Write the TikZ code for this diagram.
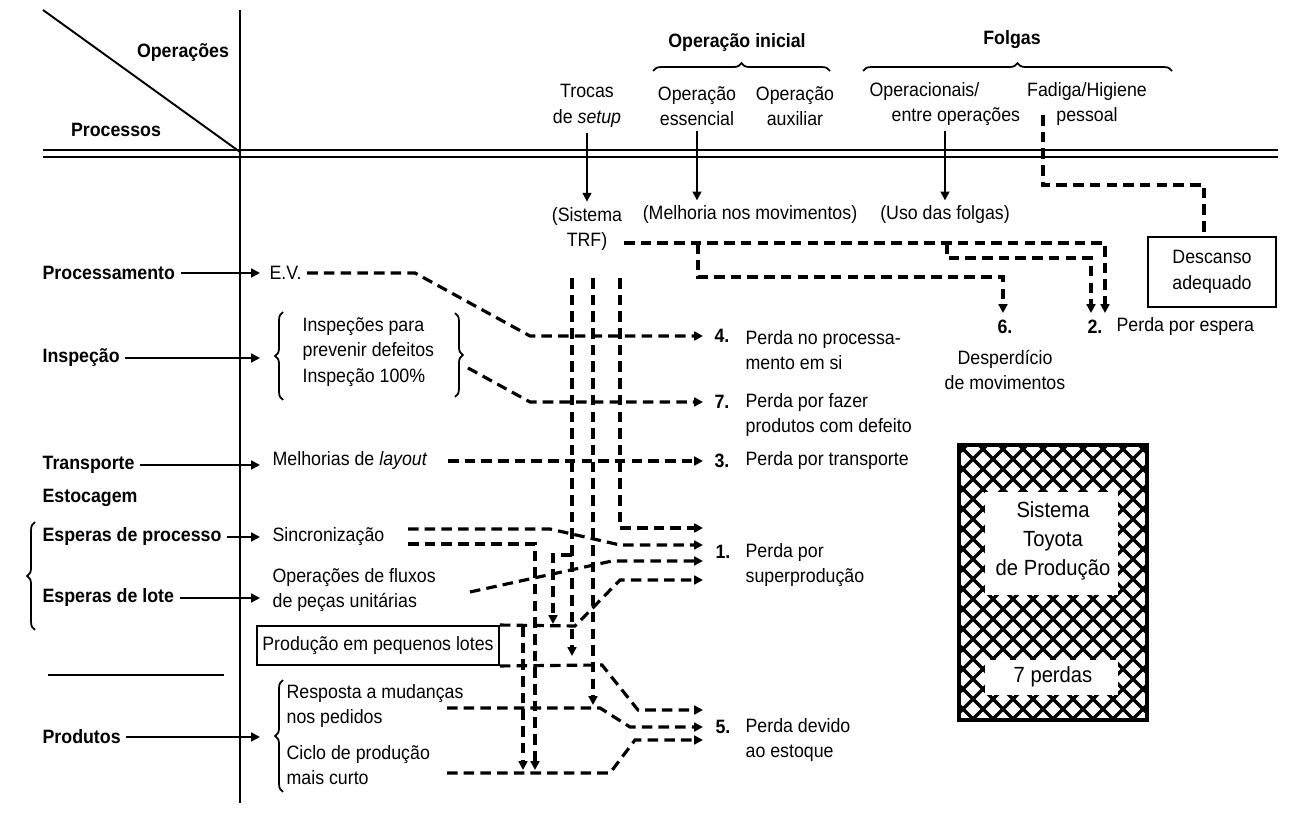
\documentclass[tikz,border=0pt]{standalone}
\usepackage{fontspec}
\setmainfont{Liberation Sans}[FakeStretch=0.92]
\usetikzlibrary{arrows.meta,decorations.pathreplacing,positioning}

\begin{document}
\begin{tikzpicture}[x=0.02cm,y=-0.02cm,
every node/.style={font=\fontsize{11}{14.5}\selectfont,inner sep=3pt},
head node/.style={font=\fontsize{11}{14.5}\selectfont\bfseries},
num node/.style={font=\fontsize{11}{14.5}\selectfont\bfseries},
big node/.style={font=\fontsize{12.5}{16.5}\selectfont,align=center},
solid line/.style={line width=1.1pt},
flow/.style={solid line,-{Triangle[length=5pt,width=5pt]}},
dash line/.style={line width=1.8pt,dash pattern=on 6pt off 3.5pt},
dash flow/.style={dash line,-{Triangle[length=5pt,width=5pt]}},
curly/.style={decorate,decoration={brace,amplitude=4.5pt},line width=1pt}]

\useasboundingbox (0,0) rectangle (1299,837);

% cabecalho
\coordinate (tl) at (43,10);
\coordinate (corner) at (240,152);
\coordinate (vtop) at (240,10);
\coordinate (vbot) at (240,803);
\draw[solid line] (tl) -- (corner);
\draw[solid line] (vtop) -- (vbot);
\draw[line width=1.4pt] (43,150) -- (1278,150);
\draw[line width=1.4pt] (43,157) -- (1278,157);

\node[head node] (ops) at (183,53) {Operações};
\node[head node] (procs) at (116,130) {Processos};
\node[head node] (opini) at (737,43) {Operação inicial};
\node[head node] (folgas) at (1012,40) {Folgas};
\draw[curly] (653,71) -- (830,71);
\draw[curly] (863,71) -- (1172,71);

\node[align=center] (trocas) at (587,106) {Trocas\\de \textit{setup}};
\node[align=center] (essen) at (697,106) {Operação\\essencial};
\node[align=center] (auxil) at (795,106) {Operação\\auxiliar};
\node[align=left,anchor=west] (operac) at (864,104) {Operacionais/\\\hspace*{0.44cm}entre operações};
\node[align=center] (fadiga) at (1087,104) {Fadiga/Higiene\\pessoal};

\node[align=center] (trf) at (587,229) {(Sistema\\TRF)};
\node (movim) at (750,215) {(Melhoria nos movimentos)};
\node (uso) at (945,215) {(Uso das folgas)};
\node[draw,line width=1.6pt,align=center,minimum width=2.56cm,minimum height=1.4cm] (descanso) at (1212,272) {Descanso\\adequado};

\draw[flow] (trocas.south) -- (trf.north);
\draw[flow] (essen.south) -- (essen.south |- movim.north);
\draw[flow] (uso.north |- operac.south) -- (uso.north);

\coordinate (fad) at (1043,115);
\coordinate (fadb) at (1204,185);
\draw[dash line] (fad) |- (fadb) -- (fadb |- descanso.north);

% perdas 2 e 6
\coordinate (t0) at (624,243);
\coordinate (t1) at (698,243);
\coordinate (t2) at (947,243);
\coordinate (e2a) at (1105,313);
\coordinate (e2b) at (1091,313);
\coordinate (e6) at (1003,313);
\draw[dash flow] (t0) -| (e2a);
\draw[dash flow] (t1) -- (698,277) -| (e6);
\draw[dash flow] (t2) -- (947,258) -| (e2b);

\node[num node] (n6) at (1005,327) {6.};
\node[align=center] (t6) at (1005,370) {Desperdício\\de movimentos};
\node[num node] (n2) at (1095,327) {2.};
\node[anchor=west] (tx2) at (1111,327) {Perda por espera};

% processos
\node[head node,anchor=west] (proc) at (37,273) {Processamento};
\node[head node,anchor=west] (insp) at (37,358) {Inspeção};
\node[head node,anchor=west] (transp) at (37,465) {Transporte};
\node[head node,anchor=west] (estoc) at (37,498) {Estocagem};
\node[head node,anchor=west] (espp) at (37,537) {Esperas de processo};
\node[head node,anchor=west] (espl) at (37,598) {Esperas de lote};
\node[head node,anchor=west] (prod) at (37,737) {Produtos};
\draw[curly] (35,630) -- (35,522);
\draw[solid line] (48,675) -- (224,675);

\coordinate (tip) at (260,0);
\draw[flow] (proc.east) -- (proc.east -| tip);
\draw[flow] (insp.east) -- (insp.east -| tip);
\draw[flow] (transp.east) -- (transp.east -| tip);
\draw[flow] (espp.east) -- (espp.east -| tip);
\draw[flow] (espl.east) -- (espl.east -| tip);
\draw[flow] (prod.east) -- (prod.east -| tip);

\node[anchor=west] (ev) at (264,273) {E.V.};
\node[anchor=west,align=left] (inspt) at (297,352) {Inspeções para\\prevenir defeitos\\Inspeção 100\%};
\draw[curly] (283,400) -- (283,312);
\draw[curly] (455,313) -- (455,397);
\node[anchor=west] (melh) at (267,461) {Melhorias de \textit{layout}};
\node[anchor=west] (sinc) at (267,537) {Sincronização};
\node[anchor=west,align=left] (fluxos) at (267,590) {Operações de fluxos\\de peças unitárias};
\node[draw,solid line,minimum width=4.84cm,minimum height=0.78cm] (box) at (378,645.5) {Produção em pequenos lotes};
\draw[curly] (283,792) -- (283,680);
\node[anchor=west,align=left] (resp) at (281,706) {Resposta a mudanças\\nos pedidos};
\node[anchor=west,align=left] (ciclo) at (281,765) {Ciclo de produção\\mais curto};

% perdas
\node[num node] (n4) at (722,336) {4.};
\node[anchor=west,align=left] (tx4) at (740,350) {Perda no processa-\\mento em si};
\node[num node] (n7) at (722,402) {7.};
\node[anchor=west,align=left] (tx7) at (740,415) {Perda por fazer\\produtos com defeito};
\node[num node] (n3) at (722,461) {3.};
\node[anchor=west] (tx3) at (740,461) {Perda por transporte};
\node[num node] (n1) at (723,552) {1.};
\node[anchor=west,align=left] (tx1) at (740,565) {Perda por\\superprodução};
\node[num node] (n5) at (723,727) {5.};
\node[anchor=west,align=left] (tx5) at (740,740) {Perda devido\\ao estoque};

\coordinate (e4) at (703,336);
\coordinate (e7) at (703,402);
\coordinate (e3) at (703,461);
\coordinate (e1a) at (703,528);
\coordinate (e1b) at (703,545);
\coordinate (e1c) at (703,561);
\coordinate (e1d) at (703,580);
\coordinate (e5a) at (703,710);
\coordinate (e5b) at (703,727);
\coordinate (e5c) at (703,740);

% verticais do TRF
\coordinate (v1) at (572,278);
\coordinate (v2) at (593,278);
\coordinate (v3) at (620,278);
\coordinate (j1) at (572,555);
\coordinate (d0) at (553,624);
\coordinate (d1) at (572,656);
\coordinate (d2) at (593,705);
\draw[dash flow] (v3) |- (e1a);
\draw[dash flow] (v2) -- (d2);
\draw[dash flow] (v1) -- (d1);
\draw[dash flow] (j1) -| (d0);

% linhas horizontais
\coordinate (b7) at (468,368);
\coordinate (sa) at (408,529);
\coordinate (sb) at (408,544);
\coordinate (fx) at (470,592);
\coordinate (bt) at (523,626);
\coordinate (rx) at (447,708);
\coordinate (cx) at (447,773);
\coordinate (d3) at (535,770);
\coordinate (d4) at (523,770);
\draw[dash flow] (ev.east) -- (415,273) -- (530,336) -- (e4);
\draw[dash flow] (b7) -- (530,402) -- (e7);
\draw[dash flow,shorten <=0.3cm] (melh.east) -- (e3);
\draw[dash flow] (sa) -- (550,529) -- (620,545) -- (e1b);
\draw[dash flow] (sb) -| (d3);
\draw[dash flow] (fx) -- (612,561) -- (e1c);
\draw[dash flow] (box.north east) -- (575,626) -- (620,580) -- (e1d);
\draw[dash flow] (bt) -- (d4);
\draw[dash flow] (box.south east) -- (602,665) -- (638,710) -- (e5a);
\draw[dash flow] (rx) -- (600,708) -- (630,727) -- (e5b);
\draw[dash flow] (cx) -- (610,773) -- (635,740) -- (e5c);

% quadro Sistema Toyota
\begin{scope}
\clip (959,445) rectangle (1147,720);
\foreach \k in {-300,-280,...,200} {
  \draw[line width=1.9pt] (959+\k,445) -- ++(300,300);
  \draw[line width=1.9pt] (1147-\k,445) -- ++(-300,300);
}
\end{scope}
\fill[white] (985,492) rectangle (1118,595);
\fill[white] (985,660) rectangle (1118,695);
\draw[line width=2.5pt] (959,445) rectangle (1147,720);
\node[big node] (tps) at (1053,541) {Sistema\\Toyota\\de Produção};
\node[big node] (sete) at (1053,677) {7 perdas};
\end{tikzpicture}
\end{document}
